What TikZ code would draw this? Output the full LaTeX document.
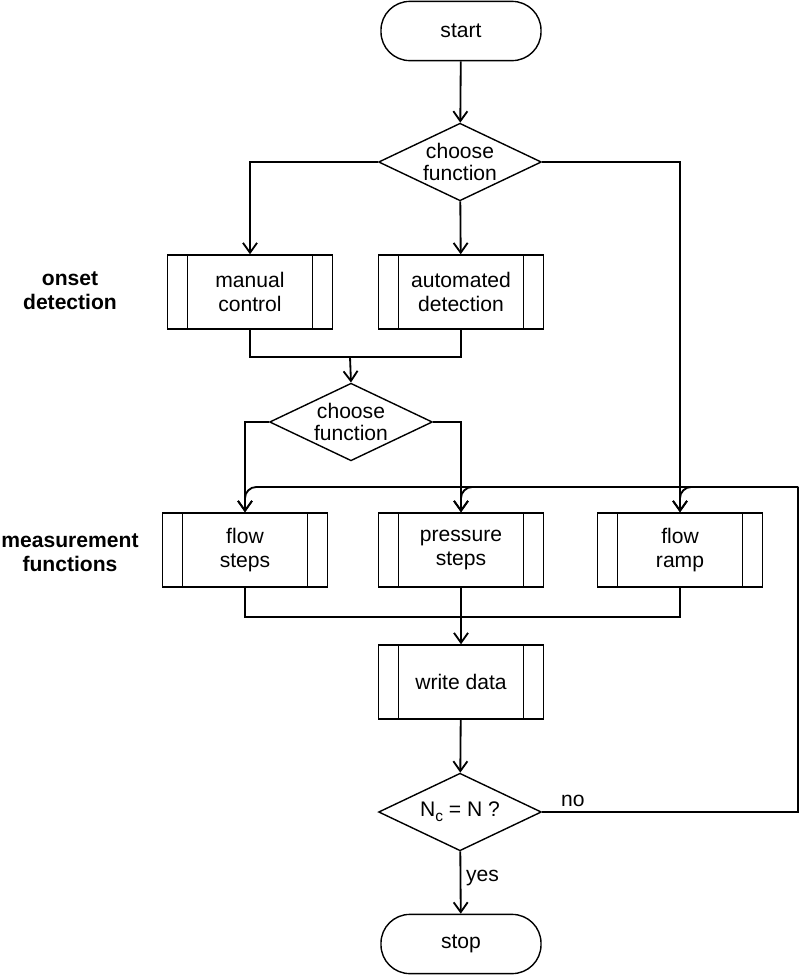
\documentclass[tikz,border=0pt]{standalone}
\usepackage{fontspec}
\setmainfont{Liberation Sans}
\usetikzlibrary{arrows.meta,shapes.geometric}

\begin{document}
\begin{tikzpicture}[x=0.025cm, y=-0.025cm, font=\fontsize{15}{17}\selectfont]

\useasboundingbox (0,0) rectangle (800,975);

\tikzset{
    Terminal/.style={rectangle, draw, line width=1pt, rounded corners=0.72cm,
        minimum width=4cm, minimum height=1.48cm},
    Decision/.style={diamond, draw, line width=1pt, aspect=2.1, inner sep=0pt,
        minimum width=4.07cm, minimum height=1.94cm, align=center,
        font=\fontsize{15}{15.5}\selectfont},
    SubProc/.style={rectangle, draw, line width=1pt, align=center,
        minimum width=4.12cm, minimum height=1.85cm,
        path picture={
            \draw [line width=1pt] ([xshift=0.5cm]path picture bounding box.north west)
                -- ([xshift=0.5cm]path picture bounding box.south west);
            \draw [line width=1pt] ([xshift=-0.5cm]path picture bounding box.north east)
                -- ([xshift=-0.5cm]path picture bounding box.south east);
        }},
    RowLabel/.style={align=center, font=\fontsize{15}{17}\selectfont\bfseries}
}

\begin{scope}
    % Terminals and decisions
    \node (start) at (461,31) [Terminal] {start};
    \node (choose1) at (460,162) [Decision] {choose\\function};
    \node (choose2) at (351,422) [Decision] {choose\\function};
    \node (check) at (460,812) [Decision]
        {N\raisebox{-0.45ex}{\fontsize{11}{11}\selectfont c} = N ?};
    \node (stop) at (461,944) [Terminal] {stop};

    % Onset detection row
    \node (manual) at (250,292) [SubProc] {manual\\control};
    \node (auto) at (461,292) [SubProc] {automated\\detection};

    % Measurement row
    \node (flowsteps) at (245,550) [SubProc] {flow\\steps};
    \node (presssteps) at (461,550) [SubProc] {pressure\\steps};
    \node (flowramp) at (680,550) [SubProc] {flow\\ramp};

    \node (write) at (461,682) [SubProc] {write data};

    \node (onsetlbl) at (70,291) [RowLabel] {onset\\detection};
    \node (measlbl) at (70,553) [RowLabel] {measurement\\functions};
\end{scope}

\coordinate (join1) at (350,357);
\coordinate (join2) at (461,617);
\coordinate (loop) at (798,487);

\begin{scope}[>={Straight Barb[length=7pt,width=10pt]}, line width=1.3pt]
    \draw [->] (start) -- (choose1);
    \draw [->] (choose1.west) -| (manual.north);
    \draw [->] (choose1) -- (auto);
    \draw [->] (choose1.east) -| (flowramp.north);

    \draw (manual.south) |- (join1) -| (auto.south);
    \draw [->] (join1) -- (choose2.north);

    \draw [->] (choose2.west) -| (flowsteps.north);
    \draw [->] (choose2.east) -| (presssteps.north);

    \draw (flowsteps.south) |- (join2) -| (flowramp.south);
    \draw [->] (presssteps) -- (write);

    \draw [->] (write) -- (check);
    \draw [->] (check) -- node [right, pos=0.43] {yes} (stop);

    % repeat loop
    \draw (check.east) -- node [above, pos=0.12] {no} (check.east -| loop) -- (loop);
    \draw [->, rounded corners=8pt] (loop) -| (flowramp.north);
    \draw [->, rounded corners=8pt] (loop) -| (presssteps.north);
    \draw [->, rounded corners=8pt] (loop) -| (flowsteps.north);
\end{scope}

\end{tikzpicture}
\end{document}
